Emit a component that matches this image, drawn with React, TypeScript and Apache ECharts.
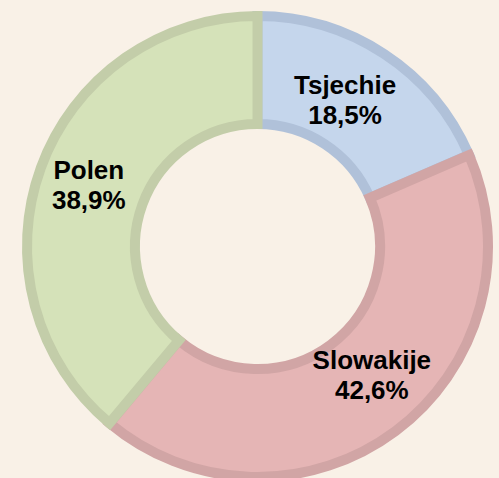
import React, { useEffect, useRef } from "react";
import * as echarts from "echarts";

const categories = ["Tsjechie", "Slowakije", "Polen"];
const values = [18.5, 42.6, 38.9];
const fillColors = ["#C5D6EC", "#E5B5B5", "#D5E2B9"];
const borderColors = ["#B0C1D9", "#D1A5A5", "#C3CDA9"];
const labelOffsets = [[-11, 4], [7, -15], [0, 0]];

export default function App() {
  const ref = useRef<HTMLDivElement>(null);
  useEffect(() => {
    if (!ref.current) return;
    const chart = echarts.init(ref.current, undefined, { renderer: "svg" });
    chart.setOption({
      animation: false,
      backgroundColor: "#F9F1E7",
      series: [
        {
          type: "pie",
          center: [257.5, 246.5],
          radius: [122.5, 230.5],
          startAngle: 90,
          clockwise: true,
          avoidLabelOverlap: false,
          labelLine: { show: false },
          label: {
            show: true,
            position: "inside",
            color: "#000",
            fontFamily: "'Liberation Sans', Arial, sans-serif",
            fontWeight: "bold",
            fontSize: 26,
            lineHeight: 30,
            formatter: (p: any) =>
              p.name + "\n" + Number(p.value).toFixed(1).replace(".", ",") + "%",
          },
          emphasis: { disabled: true },
          data: categories.map((c, i) => ({
            name: c,
            value: values[i],
            itemStyle: {
              color: fillColors[i],
              borderColor: borderColors[i],
              borderWidth: 10,
              borderJoin: "miter",
              borderMiterLimit: 10,
            },
            label: { offset: labelOffsets[i] },
          })),
        },
      ],
    });
    return () => chart.dispose();
  }, []);
  return (
    <div
      ref={ref}
      style={{ position: "fixed", left: 0, top: 0, width: 499, height: 478 }}
    />
  );
}
